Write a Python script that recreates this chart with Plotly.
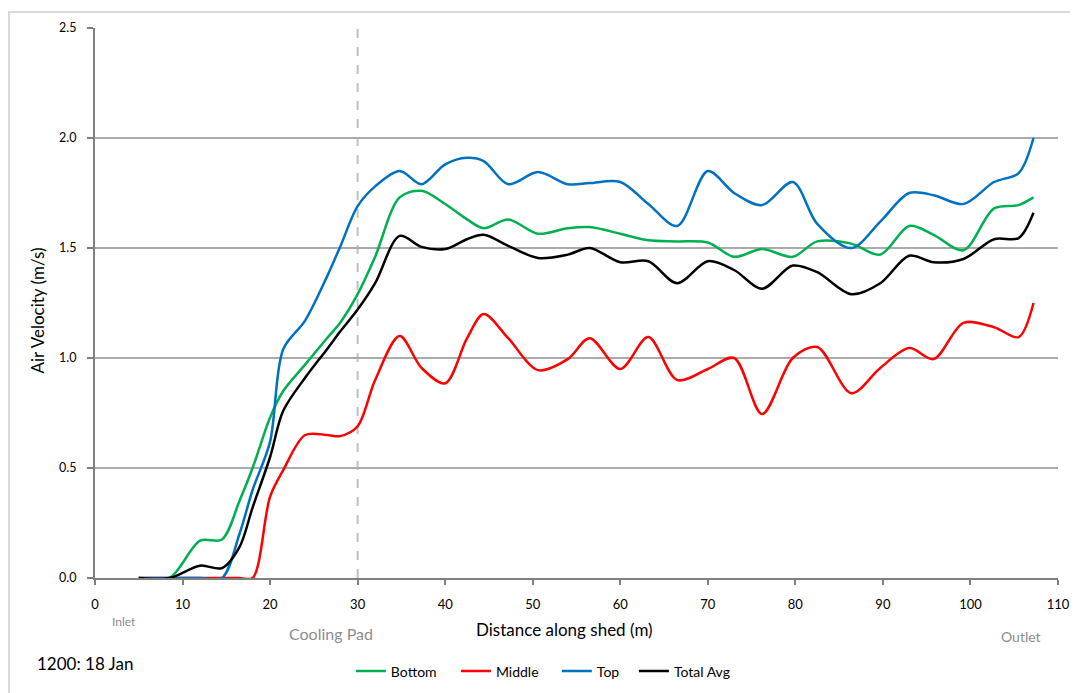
import plotly.graph_objects as go

# Distance along shed (m)
distance = [5, 8.5, 12, 14.5, 16.5, 18, 20, 21.5, 24, 26.5, 28, 30, 32, 34.8, 37.3, 40, 42.5,
            44.4, 47.2, 50.6, 54, 56.5, 60, 63.2, 66.5, 70, 73, 76.2, 79.7, 82.5, 86.4, 89.7,
            93, 95.8, 99.2, 102.7, 105.5, 107.2]

bottom = [0, 0, 0.17, 0.175, 0.35, 0.5, 0.73, 0.85, 0.97, 1.09, 1.16, 1.29, 1.46, 1.73, 1.76,
          1.70, 1.63, 1.59, 1.63, 1.565, 1.59, 1.595, 1.565, 1.535, 1.53, 1.525, 1.46, 1.495,
          1.46, 1.53, 1.52, 1.47, 1.60, 1.56, 1.49, 1.68, 1.695, 1.73]

middle = [0, 0, 0, 0, 0, 0, 0.37, 0.49, 0.65, 0.65, 0.645, 0.69, 0.90, 1.10, 0.955, 0.885, 1.09,
          1.20, 1.09, 0.945, 0.995, 1.09, 0.95, 1.095, 0.90, 0.95, 1.0, 0.745, 1.0, 1.05, 0.84,
          0.955, 1.045, 0.995, 1.16, 1.14, 1.095, 1.25]

top = [0, 0, 0, 0, 0.2, 0.4, 0.62, 1.04, 1.17, 1.37, 1.505, 1.69, 1.78, 1.85, 1.79, 1.88, 1.91,
       1.895, 1.79, 1.845, 1.79, 1.795, 1.80, 1.70, 1.60, 1.85, 1.75, 1.695, 1.80, 1.61, 1.50,
       1.62, 1.75, 1.74, 1.70, 1.80, 1.84, 2.0]

total_avg = [0, 0, 0.056, 0.045, 0.14, 0.32, 0.55, 0.76, 0.91, 1.04, 1.12, 1.22, 1.34, 1.555,
             1.505, 1.495, 1.54, 1.56, 1.51, 1.455, 1.47, 1.50, 1.435, 1.44, 1.34, 1.44, 1.40,
             1.315, 1.42, 1.39, 1.29, 1.34, 1.465, 1.435, 1.45, 1.54, 1.545, 1.66]

series_names = ["Bottom", "Middle", "Top", "Total Avg"]
series_values = [bottom, middle, top, total_avg]
series_colors = ["#00B050", "#FF0000", "#0070C0", "#000000"]
legend_x = [0.2657, 0.3748, 0.4796, 0.5596]

x_ticks = list(range(0, 111, 10))
y_ticks = [0, 0.5, 1.0, 1.5, 2.0, 2.5]
y_tick_text = ["0.0", "0.5", "1.0", "1.5", "2.0", "2.5"]

FONT = "Lato, 'Liberation Sans', sans-serif"
PW, PH = 963, 553  # plot area size in px
ML, MT, MB = 87, 17, 123

fig = go.Figure()
legend_layouts = {}
for i, (name, vals, color) in enumerate(zip(series_names, series_values, series_colors)):
    key = "legend" if i == 0 else f"legend{i + 1}"
    fig.add_trace(go.Scatter(x=distance, y=vals, name=name, mode="lines", legend=key,
                             line=dict(color=color, width=2.5, shape="spline", smoothing=0.9)))
    legend_layouts[key] = dict(orientation="h", x=legend_x[i], y=-94 / PH, xanchor="left",
                               yanchor="middle", font=dict(size=14, family=FONT, color="#000"),
                               bgcolor="rgba(0,0,0,0)", borderwidth=0)

fig.update_layout(
    width=1078, height=693,
    margin=dict(l=ML, r=28, t=MT, b=MB),
    paper_bgcolor="white", plot_bgcolor="white",
    font=dict(family=FONT, color="#000000"),
    showlegend=True,
    xaxis=dict(range=[0, 110], tickvals=x_ticks, showgrid=False, zeroline=False,
               showline=True, linecolor="#808080", linewidth=2,
               ticks="outside", ticklen=5, tickcolor="#808080", tickwidth=1.5,
               ticklabelstandoff=8,
               tickfont=dict(size=13, family=FONT, color="#000")),
    yaxis=dict(range=[0, 2.5], tickvals=y_ticks, ticktext=y_tick_text, showgrid=True,
               gridcolor="#ababab", gridwidth=2, zeroline=False,
               showline=True, linecolor="#808080", linewidth=2,
               ticks="outside", ticklen=6, tickcolor="#808080", tickwidth=1.5,
               ticklabelstandoff=8,
               tickfont=dict(size=12.5, family=FONT, color="#000")),
    **legend_layouts,
)

# Axis titles
fig.add_annotation(x=(564 - 95) / PW, y=(578 - 630) / PH, xref="paper", yref="paper",
                   text="Distance along shed (m)", showarrow=False, xanchor="center",
                   yanchor="middle", font=dict(size=17, family=FONT, color="#000"))
fig.add_annotation(x=(37 - 95) / PW, y=(578 - 309) / PH, xref="paper", yref="paper",
                   text="Air Velocity (m/s)", showarrow=False, textangle=-90,
                   xanchor="center", yanchor="middle", font=dict(size=17, family=FONT, color="#000"))

# Cooling pad marker line
fig.add_shape(type="line", xref="x", yref="y", x0=30, x1=30, y0=0, y1=2.5,
              line=dict(color="#c0c0c0", width=2, dash="dash"), layer="below")

# Frame edges (left and top)
fig.add_shape(type="line", xref="paper", yref="paper", x0=-(ML - 1) / PW, x1=-(ML - 1) / PW,
              y0=-MB / PH, y1=1 + MT / PH, line=dict(color="#d9d9d9", width=2))
fig.add_shape(type="line", xref="paper", yref="paper", x0=-ML / PW, x1=(1078 - ML) / PW,
              y0=1 + (MT - 1) / PH, y1=1 + (MT - 1) / PH, line=dict(color="#d9d9d9", width=2))

annot_text = ["Inlet", "Cooling Pad", "Outlet"]
annot_x = [3.3, 27.0, 105.8]
annot_ypx = [622, 634, 637]
annot_size = [12, 16, 14]
for text, xv, ypx, size in zip(annot_text, annot_x, annot_ypx, annot_size):
    fig.add_annotation(x=xv, y=(578 - ypx) / PH, xref="x", yref="paper", text=text,
                       showarrow=False, font=dict(size=size, color="#8c8c8c", family=FONT),
                       xanchor="center", yanchor="middle")

fig.add_annotation(x=(85 - 95) / PW, y=(578 - 664) / PH, xref="paper", yref="paper",
                   text="1200: 18 Jan", showarrow=False, xanchor="center", yanchor="middle",
                   font=dict(size=17, color="#000000", family=FONT))

fig.write_html("out.html")
